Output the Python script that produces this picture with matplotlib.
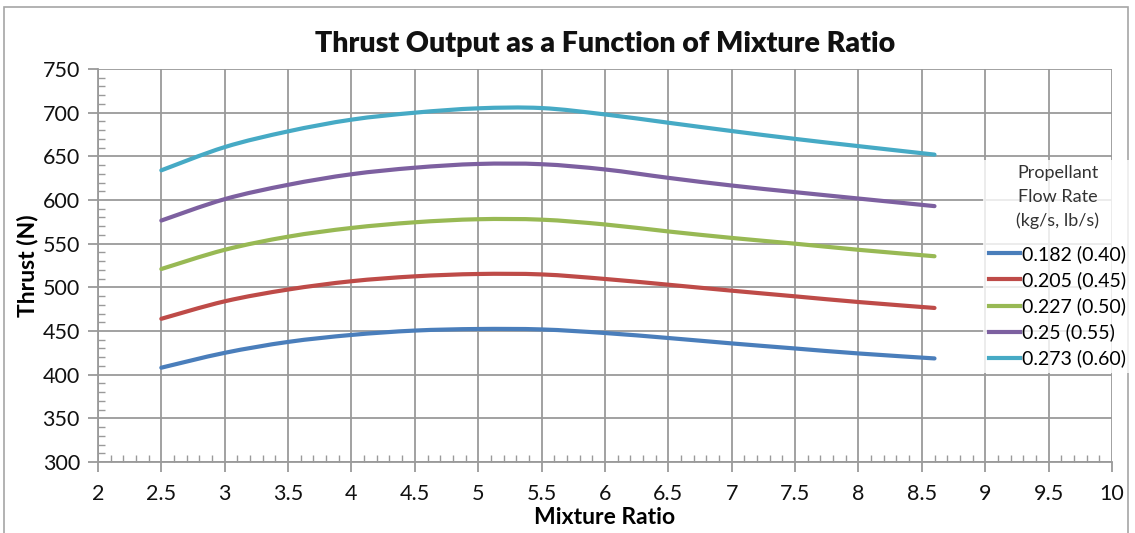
import numpy as np
import matplotlib
matplotlib.use("Agg")
import matplotlib.pyplot as plt
from matplotlib.path import Path
from matplotlib.patches import PathPatch, Rectangle
from matplotlib.lines import Line2D
from matplotlib.ticker import MultipleLocator

plt.rcParams['font.family'] = ['Lato', 'DejaVu Sans']

mixture_ratio = [2.5, 3.0, 3.5, 4.0, 4.5, 5.0, 5.5, 6.0, 6.5, 7.0, 7.5, 8.0, 8.6]
thrust_0182 = [408, 425, 437.5, 445.5, 450.5, 452.3, 451.8, 447.7, 442, 435.8, 430, 424.3, 418.6]
thrust_0205 = [464, 484, 497.5, 507, 512.6, 515.3, 514.8, 509.6, 503, 496.2, 489.7, 483.2, 476.4]
thrust_0227 = [521, 543, 558, 568, 574.5, 578, 577.5, 572, 564, 556.6, 550, 543, 535.6]
thrust_025 = [576.5, 601, 617.4, 629.5, 637, 641.3, 641, 635, 625.4, 616.6, 609, 601.7, 593]
thrust_0273 = [634, 660.6, 678.6, 692, 700, 705, 705.3, 698, 688.5, 679, 670, 661.7, 652]
series_labels = ["0.182 (0.40)", "0.205 (0.45)", "0.227 (0.50)", "0.25 (0.55)", "0.273 (0.60)"]
series_values = [thrust_0182, thrust_0205, thrust_0227, thrust_025, thrust_0273]
colors = ["#4A7EBB", "#BE4B48", "#98B954", "#7D60A0", "#46AAC5"]


def smooth_path(xs, ys):
    p = np.column_stack([xs, ys]).astype(float)
    n = len(p)
    verts = [p[0]]
    codes = [Path.MOVETO]
    for i in range(n - 1):
        p0 = p[i - 1] if i > 0 else p[i]
        p1 = p[i]
        p2 = p[i + 1]
        p3 = p[i + 2] if i + 2 < n else p[i + 1]
        c1 = p1 + (p2 - p0) / 6.0
        c2 = p2 - (p3 - p1) / 6.0
        verts += [c1, c2, p2]
        codes += [Path.CURVE4] * 3
    return Path(verts, codes)


fig = plt.figure(figsize=(11.35, 5.33), dpi=100)
ax = fig.add_axes([0.0863, 0.1332, 0.8934, 0.7373])

grid_c = "#9a9a9a"
ax.set_xlim(2, 10)
ax.set_ylim(300, 750)
ax.xaxis.set_major_locator(MultipleLocator(0.5))
ax.xaxis.set_minor_locator(MultipleLocator(0.1))
ax.yaxis.set_major_locator(MultipleLocator(50))
ax.yaxis.set_minor_locator(MultipleLocator(10))
ax.grid(True, which="major", color=grid_c, linewidth=1.3)
ax.set_axisbelow(True)
for s in ["top", "right"]:
    ax.spines[s].set_visible(False)
for s in ["left", "bottom"]:
    ax.spines[s].set_color(grid_c)
    ax.spines[s].set_linewidth(1.3)
ax.tick_params(which="major", direction="out", length=7, width=1.3, color=grid_c,
               labelsize=15.5, labelcolor="#111111")
ax.tick_params(axis="x", which="major", pad=9)
ax.tick_params(axis="y", which="major", pad=6)
ax.tick_params(which="minor", direction="in", length=5, width=1.0, color=grid_c)

xt = [2, 2.5, 3, 3.5, 4, 4.5, 5, 5.5, 6, 6.5, 7, 7.5, 8, 8.5, 9, 9.5, 10]
ax.set_xticks(xt)
ax.set_xticklabels([f"{v:g}" for v in xt])

for vals, c in zip(series_values, colors):
    patch = PathPatch(smooth_path(mixture_ratio, vals), facecolor="none",
                      edgecolor=c, linewidth=3.0, capstyle="round", zorder=3)
    ax.add_patch(patch)

ax.set_title("Thrust Output as a Function of Mixture Ratio", fontsize=20.5,
             fontweight="heavy", pad=12, color="#111111")
ax.set_xlabel("Mixture Ratio", fontsize=16.5, fontweight="bold", labelpad=2)
ax.set_ylabel("Thrust (N)", fontsize=16.5, fontweight="bold", labelpad=3)

handles = [Line2D([0], [0], color=c, linewidth=3) for c in colors]
leg = fig.legend(handles, series_labels, title="Propellant\nFlow Rate\n(kg/s, lb/s)",
                 loc="center", bbox_to_anchor=(0.932, 0.5), fontsize=14,
                 title_fontsize=13, frameon=True, handlelength=1.6, handletextpad=0.1,
                 labelspacing=0.42, borderpad=0.3, fancybox=False)
leg.get_frame().set_edgecolor("none")
leg.get_frame().set_facecolor("white")
leg.get_title().set_multialignment("center")
leg.get_title().set_color("#333333")
leg.get_title().set_linespacing(1.55)
leg._legend_box.sep = 12

fig.add_artist(Rectangle((0.0035, -0.01), 0.99, 0.997, transform=fig.transFigure,
                         fill=False, edgecolor="#a6a6a6", linewidth=1.2))

fig.savefig("out.png", dpi=100)
